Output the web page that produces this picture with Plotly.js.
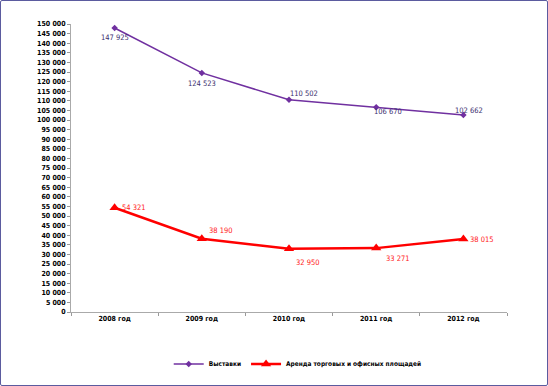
<!DOCTYPE html>
<html>
<head>
<meta charset="utf-8">
<script src="https://cdn.plot.ly/plotly-3.0.1.min.js"></script>
<style>
html,body{margin:0;padding:0;background:#fff;}
#wrap{position:relative;width:548px;height:386px;}
#chart{width:548px;height:386px;}
#frame{position:absolute;left:0;top:0;width:548px;height:386px;box-sizing:border-box;border:1.5px solid #5b5b9f;border-radius:2px;pointer-events:none;}
</style>
</head>
<body>
<div id="wrap"><div id="chart"></div><div id="frame"></div></div>
<script>
var categories = ['2008 год', '2009 год', '2010 год', '2011 год', '2012 год'];
var exhibitions = [147925, 124523, 110502, 106670, 102662];
var rent = [54321, 38190, 32950, 33271, 38015];
var seriesNames = ['Выставки', 'Аренда торговых и офисных площадей'];
var yTickVals = [];
for (var v = 0; v <= 150000; v += 5000) yTickVals.push(v);

var font = '"DejaVu Sans Condensed", "Liberation Sans", Arial, sans-serif';
function fmt(n){ return String(n).replace(/\B(?=(\d{3})+(?!\d))/g, ' '); }

var purpleOff = [[0,10],[0,11],[15,-6],[12,4],[6,-4]];
var redOff = [[19,0],[19,-8],[19,14],[22,10],[19,0]];

var annotations = [];
categories.forEach(function(c,i){
  annotations.push({x:c, y:exhibitions[i], text:fmt(exhibitions[i]), showarrow:false,
    xshift:purpleOff[i][0], yshift:-purpleOff[i][1], font:{family:font,size:7.5,color:'#3a2e6e'}});
  annotations.push({x:c, y:rent[i], text:fmt(rent[i]), showarrow:false,
    xshift:redOff[i][0], yshift:-redOff[i][1], font:{family:font,size:7.5,color:'#ff2020'}});
});

var traces = [
  {x:categories, y:exhibitions, name:seriesNames[0], type:'scatter', mode:'lines+markers',
   line:{color:'#7030a0', width:1.5}, marker:{symbol:'diamond', size:5, color:'#7030a0'}},
  {x:categories, y:rent, name:seriesNames[1], type:'scatter', mode:'lines+markers',
   line:{color:'#ff0000', width:2.5}, marker:{symbol:'triangle-up', size:9, color:'#ff0000'}}
];

var layout = {
  width:548, height:386,
  margin:{l:71, r:41, t:24, b:74, autoexpand:false},
  paper_bgcolor:'#fff', plot_bgcolor:'#fff',
  separators:', ',
  showlegend:true,
  legend:{orientation:'h', x:0.52, xanchor:'center', y:-0.13, yanchor:'top',
    font:{family:font, size:6.5, color:'#000', weight:'bold'}, itemwidth:30, tracegroupgap:0},
  xaxis:{type:'category', tickson:'boundaries', ticks:'outside', ticklen:3, tickcolor:'#999',
    showline:true, linecolor:'#aaa', linewidth:1, showgrid:false, zeroline:false,
    tickfont:{family:font, size:7, color:'#000', weight:'bold'}, range:[-0.5,4.5], automargin:false},
  yaxis:{range:[0,150000], tickvals:yTickVals, tickformat:',', ticks:'outside', ticklen:3,
    tickcolor:'#999', showline:true, linecolor:'#aaa', linewidth:1, showgrid:false, zeroline:false,
    tickfont:{family:font, size:7, color:'#000', weight:'bold'}, automargin:false},
  annotations:annotations
};
Plotly.newPlot('chart', traces, layout, {displayModeBar:false, staticPlot:true});
</script>
</body>
</html>
